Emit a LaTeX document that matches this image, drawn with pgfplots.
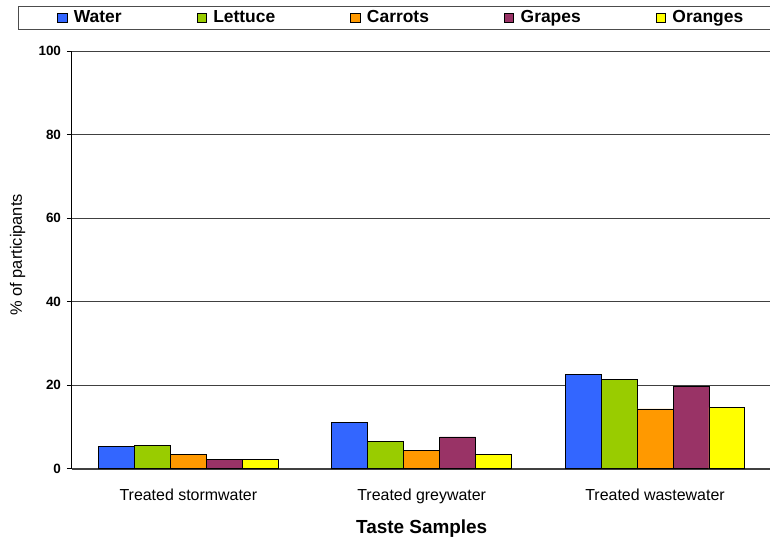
\documentclass[border=0pt]{standalone}
\usepackage{fontspec}
\setmainfont{Liberation Sans}
\usepackage{pgfplots}
\pgfplotsset{compat=1.18}
\definecolor{cwater}{HTML}{3366FF}
\definecolor{clettuce}{HTML}{99CC00}
\definecolor{ccarrots}{HTML}{FF9900}
\definecolor{cgrapes}{HTML}{993366}
\definecolor{coranges}{HTML}{FFFF00}
\begin{document}
\begin{tikzpicture}
\begin{axis}[
  scale only axis, width=700bp, height=417.7bp,
  at={(71.7bp,70.3bp)}, anchor=south west,
  ymin=0, ymax=100, ytick={0,20,...,100},
  extra y ticks={100}, extra y tick labels={},
  extra y tick style={grid style={black!80, line width=1.6bp}, major tick length=0pt},
  xmin=-0.5, xmax=2.5,
  xtick={0,1,2},
  xticklabels={Treated stormwater, Treated greywater, Treated wastewater},
  minor xtick={-0.5,0.5,1.5,2.5},
  axis lines*=left,
  x axis line style={black!75, line width=1.6bp},
  y axis line style={black, line width=1bp},
  tick align=outside,
  major tick length=4.7bp, minor tick length=5bp,
  xtick style={draw=none},
  minor x tick style={black, line width=0.8bp},
  ytick style={black, line width=0.8bp},
  ymajorgrids, major grid style={black!75, line width=0.8bp},
  ybar, bar width=0.154,
  /pgf/number format/assume math mode=true,
  yticklabel style={font=\bfseries\fontsize{13.5}{15}\selectfont, xshift=-2.5bp},
  xticklabel style={font=\fontsize{16}{18}\selectfont, anchor=base, yshift=-27.3bp},
  ylabel={\% of participants},
  every axis y label/.style={at={(axis description cs:-0.0774,0.512)}, rotate=90, anchor=center, font=\fontsize{16.5}{18}\selectfont},
  xlabel={Taste Samples},
  every axis x label/.style={at={(axis description cs:0.5,-0.1563)}, anchor=base, font=\bfseries\fontsize{19}{21}\selectfont},
  legend columns=5,
  legend style={at={(axis description cs:-0.0763,1.079)}, anchor=west,
    draw=black!70, line width=0.8bp, inner xsep=38.4bp, inner ysep=3.5bp,
    font=\bfseries\fontsize{17.5}{19}\selectfont,
    nodes={inner sep=0pt, text height=12.5bp, text depth=3.5bp},
    /tikz/every even column/.append style={column sep=75bp}},
  legend image code/.code={\draw[#1, draw=black, line width=0.6bp] (0bp,-4.5bp) rectangle (9.5bp,4.5bp); \path (16bp,0bp);},
]
\addplot[fill=cwater, draw=black, line width=0.8bp, bar shift=-0.308] coordinates {(0,5.35) (1,11.1) (2,22.6)};
\addplot[fill=clettuce, draw=black, line width=0.8bp, bar shift=-0.154] coordinates {(0,5.6) (1,6.55) (2,21.4)};
\addplot[fill=ccarrots, draw=black, line width=0.8bp, bar shift=0] coordinates {(0,3.35) (1,4.4) (2,14.3)};
\addplot[fill=cgrapes, draw=black, line width=0.8bp, bar shift=0.154] coordinates {(0,2.2) (1,7.6) (2,19.6)};
\addplot[fill=coranges, draw=black, line width=0.8bp, bar shift=0.308] coordinates {(0,2.2) (1,3.35) (2,14.7)};
\legend{Water, Lettuce, Carrots, Grapes, Oranges}
\end{axis}
\pgfresetboundingbox
\useasboundingbox (0,0) rectangle (770bp,539bp);
\end{tikzpicture}
\end{document}
